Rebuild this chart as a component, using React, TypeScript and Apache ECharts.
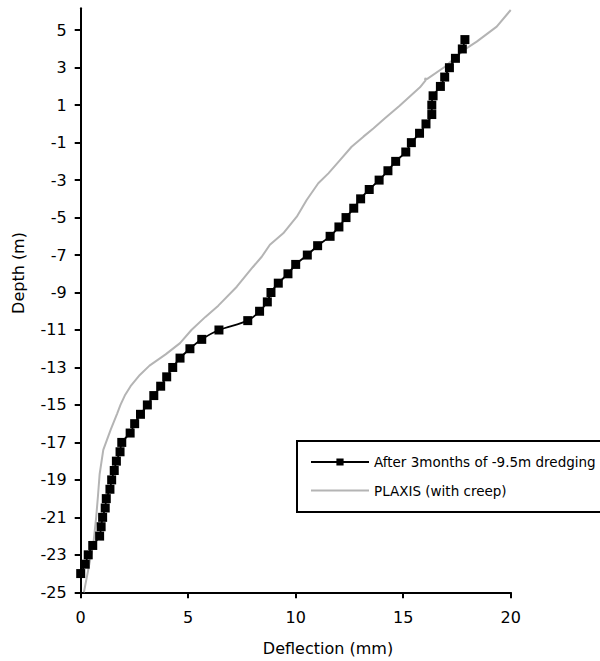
import React, { useEffect, useRef } from "react";
import * as echarts from "echarts";

// After 3 months of -9.5 m dredging (measured)
const afterDepth = [
  4.5, 4.0, 3.5, 3.0, 2.5, 2.0, 1.5, 1.0, 0.5, 0.0,
  -0.5, -1.0, -1.5, -2.0, -2.5, -3.0, -3.5, -4.0, -4.5, -5.0,
  -5.5, -6.0, -6.5, -7.0, -7.5, -8.0, -8.5, -9.0, -9.5, -10.0,
  -10.5, -11.0, -11.5, -12.0, -12.5, -13.0, -13.5, -14.0, -14.5, -15.0,
  -15.5, -16.0, -16.5, -17.0, -17.5, -18.0, -18.5, -19.0, -19.5, -20.0,
  -20.5, -21.0, -21.5, -22.0, -22.5, -23.0, -23.5, -24.0,
];
const afterDefl = [
  17.87, 17.75, 17.43, 17.15, 16.93, 16.73, 16.39, 16.33, 16.33, 16.06,
  15.76, 15.38, 15.12, 14.65, 14.29, 13.88, 13.42, 13.02, 12.7, 12.34,
  12.01, 11.6, 11.02, 10.54, 10.0, 9.64, 9.19, 8.85, 8.68, 8.32,
  7.77, 6.43, 5.63, 5.08, 4.62, 4.28, 4.0, 3.72, 3.4, 3.1,
  2.78, 2.51, 2.3, 1.91, 1.83, 1.66, 1.56, 1.44, 1.36, 1.19,
  1.14, 1.02, 0.95, 0.88, 0.56, 0.35, 0.21, 0.0,
];

// PLAXIS (with creep)
const plaxisDepth = [
  -25.0, -23.8, -22.4, -21.0, -19.9, -18.7, -17.4, -16.3, -15.45, -15.0,
  -14.5, -14.0, -13.4, -12.9, -12.3, -11.7, -11.0, -10.3, -9.7, -8.69,
  -7.65, -7.09, -6.45, -5.84, -4.95, -4.06, -3.17, -2.64, -1.93, -1.22,
  -0.68, -0.24, 0.3, 0.96, 1.95, 2.34, 2.42, 2.4, 3.05, 3.98,
  4.39, 5.19, 6.08,
];
const plaxisDefl = [
  0.15, 0.35, 0.59, 0.72, 0.8, 0.88, 1.05, 1.4, 1.7, 1.85,
  2.05, 2.32, 2.75, 3.2, 3.95, 4.62, 5.15, 5.8, 6.4, 7.26,
  8.0, 8.42, 8.8, 9.42, 10.05, 10.51, 11.05, 11.52, 12.06, 12.6,
  13.15, 13.61, 14.15, 14.82, 15.78, 16.05, 16.0, 16.12, 16.94, 17.87,
  18.42, 19.35, 20.0,
];

const xTicks = [0, 5, 10, 15, 20];
const yTicks = [-25, -23, -21, -19, -17, -15, -13, -11, -9, -7, -5, -3, -1, 1, 3, 5];

const seriesNames = ["After 3months of -9.5m dredging", "PLAXIS (with creep)"];

const FONT = "DejaVu Sans, Verdana, sans-serif";

export default function App() {
  const ref = useRef<HTMLDivElement>(null);
  useEffect(() => {
    if (!ref.current) return;
    const chart = echarts.init(ref.current, undefined, { renderer: "svg" });
    const afterData = afterDepth.map((d, i) => [afterDefl[i], d]);
    const plaxisData = plaxisDepth.map((d, i) => [plaxisDefl[i], d]);
    const legendText = { color: "#000", fontSize: 13.5, fontFamily: FONT, lineHeight: 14 };
    chart.setOption({
      animation: false,
      backgroundColor: "#ffffff",
      grid: { left: 80.7, right: 89.3, top: 8.3, bottom: 68.7, containLabel: false },
      xAxis: {
        type: "value",
        min: 0,
        max: 20,
        interval: 5,
        axisLine: { show: true, onZero: false, lineStyle: { color: "#000", width: 2 } },
        axisTick: { show: true, length: 6, lineStyle: { color: "#000", width: 2 }, customValues: xTicks },
        axisLabel: { color: "#000", fontSize: 16, fontFamily: FONT, margin: 17, customValues: xTicks },
        splitLine: { show: false },
      },
      yAxis: {
        type: "value",
        min: -25,
        max: 6.17,
        interval: 2,
        axisLine: { show: true, onZero: false, lineStyle: { color: "#000", width: 2 } },
        axisTick: { show: true, length: 6, lineStyle: { color: "#000", width: 2 }, customValues: yTicks },
        axisLabel: { color: "#000", fontSize: 16, fontFamily: FONT, margin: 14, customValues: yTicks },
        splitLine: { show: false },
      },
      legend: [
        {
          data: [seriesNames[0]],
          left: 310,
          top: 455,
          padding: 0,
          itemWidth: 58,
          itemHeight: 9,
          itemGap: 5,
          textStyle: legendText,
        },
        {
          data: [{ name: seriesNames[1], itemStyle: { opacity: 0 } }],
          left: 310,
          top: 483.5,
          padding: 0,
          itemWidth: 58,
          itemHeight: 9,
          itemGap: 5,
          textStyle: legendText,
        },
      ],
      graphic: [
        {
          type: "rect",
          shape: { x: 297, y: 441, width: 330, height: 71 },
          style: { fill: "none", stroke: "#000", lineWidth: 2 },
          z: 10,
        },
        {
          type: "text",
          x: 18.5,
          y: 273,
          rotation: Math.PI / 2,
          style: {
            text: "Depth (m)",
            fontSize: 16,
            fontFamily: FONT,
            fill: "#000",
            align: "center",
            verticalAlign: "middle",
          },
        },
        {
          type: "text",
          x: 328,
          y: 648,
          style: {
            text: "Deflection (mm)",
            fontSize: 16,
            fontFamily: FONT,
            fill: "#000",
            align: "center",
            verticalAlign: "middle",
          },
        },
      ],
      series: [
        {
          name: seriesNames[1],
          type: "line",
          data: plaxisData,
          showSymbol: false,
          symbol: "none",
          smooth: false,
          clip: false,
          z: 2,
          lineStyle: { color: "#b4b4b4", width: 2 },
          itemStyle: { color: "#b4b4b4" },
        },
        {
          name: seriesNames[0],
          type: "line",
          data: afterData,
          symbol: "rect",
          symbolSize: 9,
          smooth: 0.3,
          clip: false,
          z: 3,
          lineStyle: { color: "#000", width: 1.8 },
          itemStyle: { color: "#000" },
        },
      ],
    });
    return () => chart.dispose();
  }, []);
  return (
    <div
      ref={ref}
      style={{ position: "absolute", left: 0, top: 0, width: 600, height: 661 }}
    />
  );
}
